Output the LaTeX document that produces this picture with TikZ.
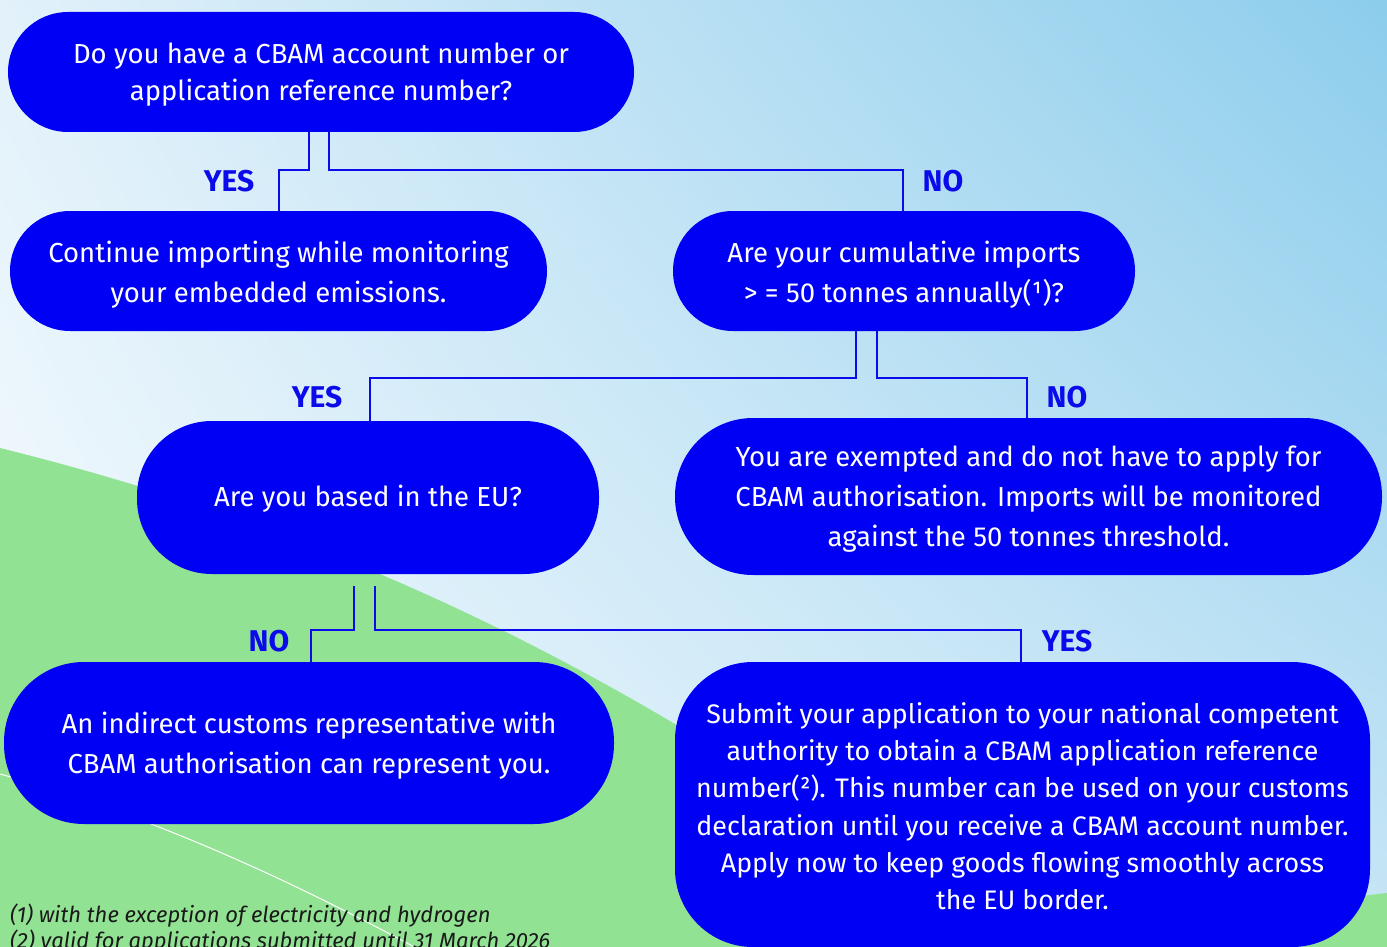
\documentclass[tikz,border=0pt]{standalone}
\usepackage{fontspec}
\usetikzlibrary{shadings}
\setmainfont{Fira Sans}
\definecolor{cbblue}{RGB}{0,0,245}
\definecolor{lineblue}{RGB}{10,10,235}
\definecolor{hill}{RGB}{145,227,147}
\definecolor{bgTL}{RGB}{226,241,250}
\definecolor{bgTR}{RGB}{140,205,236}
\definecolor{bgBL}{RGB}{250,253,255}
\definecolor{bgBR}{RGB}{200,230,246}
% #1 = height of the first baseline above the node centre, #2 = lines
\newcommand\boxtxt[2]{\raisebox{#1}[0pt][0pt]{\begin{tabular}[t]{@{}c@{}}#2\end{tabular}}}
\tikzset{
  box/.style={fill=cbblue, text=white, inner sep=0pt,
    font=\fontsize{27.5}{40}\selectfont},
  answer/.style={text=lineblue, inner sep=0pt, font=\bfseries\fontsize{30}{30}\selectfont},
  conn/.style={draw=lineblue, line width=2.8pt},
  note/.style={text=black!90, inner sep=0pt, anchor=base west, font=\itshape\fontsize{22}{22}\selectfont}
}
\begin{document}
\begin{tikzpicture}[x=1pt,y=-1pt]
\useasboundingbox (0,0) rectangle (1387,947);
% background
\shade[upper left=bgTL, upper right=bgTR, lower left=bgBL, lower right=bgBR] (0,0) rectangle (1387,947);
% green hills
\fill[hill] (0,448) .. controls (230,505) and (450,590) .. (680,727) -- (990,947) -- (0,947) -- cycle;
\fill[hill] (1180,947) .. controls (1260,918) and (1320,900) .. (1387,893) -- (1387,947) -- cycle;
\draw[white, line width=1pt] (0,774) .. controls (150,815) and (290,880) .. (420,950);

% boxes
\node[box, minimum width=626, minimum height=120, rounded corners=60, font=\fontsize{27.5}{37}\selectfont] (b1) at (321,72)
  {\boxtxt{8pt}{Do you have a CBAM account number or\\ application reference number?}};
\node[box, minimum width=537, minimum height=120, rounded corners=60] (b2) at (278.5,271)
  {\boxtxt{9pt}{Continue importing while monitoring\\ your embedded emissions.}};
\node[box, minimum width=462, minimum height=120, rounded corners=60] (b3) at (904,271)
  {\boxtxt{9pt}{Are your cumulative imports\\ > = 50 tonnes annually(¹)?}};
\node[box, minimum width=462, minimum height=153, rounded corners=75] (b4) at (368,497.5)
  {\boxtxt{-9pt}{Are you based in the EU?}};
\node[box, minimum width=707, minimum height=157, rounded corners=78] (b5) at (1028.5,496.5)
  {\boxtxt{30pt}{You are exempted and do not have to apply for\\ CBAM authorisation. Imports will be monitored\\ against the 50 tonnes threshold.}};
\node[box, minimum width=610, minimum height=162, rounded corners=80] (b6) at (309,743)
  {\boxtxt{9.5pt}{An indirect customs representative with\\ CBAM authorisation can represent you.}};
\node[box, minimum width=695, minimum height=285, rounded corners=78, font=\fontsize{26.8}{37.2}\selectfont] (b7) at (1022.5,804.5)
  {\boxtxt{81pt}{Submit your application to your national competent\\ authority to obtain a CBAM application reference\\ number(²). This number can be used on your customs\\ declaration until you receive a CBAM account number.\\ Apply now to keep goods flowing smoothly across\\ the EU border.}};

% helper coordinates
\coordinate (k1) at (309,170);
\coordinate (k2) at (329,170);
\coordinate (k3) at (856,378);
\coordinate (k4) at (877,378);
\coordinate (k5) at (354,586);
\coordinate (k6) at (375,586);
\coordinate (k7) at (354,630);
\coordinate (k8) at (375,630);

% connectors
\draw[conn] (b1.south -| k1) -- (k1) -| (b2.north -| 279,0);
\draw[conn] (b1.south -| k2) -- (k2) -| (b3.north -| 903,0);
\draw[conn] (b3.south -| k3) -- (k3) -| (b4.north -| 370,0);
\draw[conn] (b3.south -| k4) -- (k4) -| (b5.north -| 1027,0);
\draw[conn] (k5) -- (k7) -| (b6.north -| 311,0);
\draw[conn] (k6) -- (k8) -| (b7.north -| 1021,0);

% answers
\node[answer] (y1) at (229,181) {YES};
\node[answer] (n1) at (943,181) {NO};
\node[answer] (y2) at (317,397) {YES};
\node[answer] (n2) at (1067,397) {NO};
\node[answer] (n3) at (269,641) {NO};
\node[answer] (y3) at (1067,641) {YES};

% footnotes
\node[note] (f1) at (10,922) {(1) with the exception of electricity and hydrogen};
\node[note] (f2) at (10,948) {(2) valid for applications submitted until 31 March 2026};
\end{tikzpicture}
\end{document}
